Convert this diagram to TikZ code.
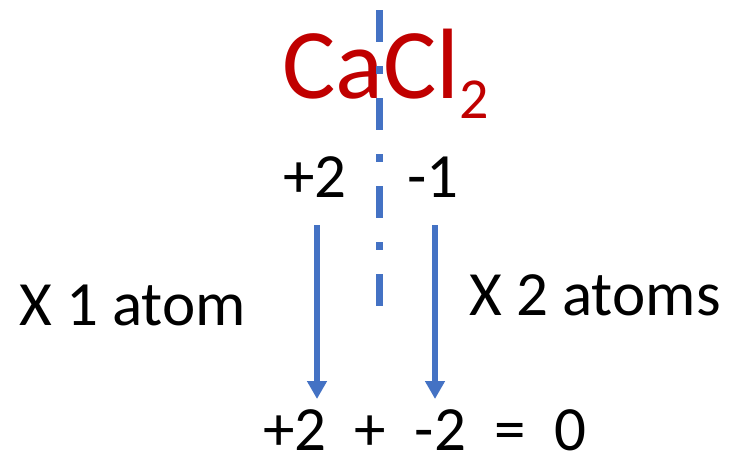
\documentclass[tikz,border=0pt]{standalone}
\usepackage{fontspec}
\setmainfont{Carlito}
\usepackage{tikz}
\usetikzlibrary{arrows.meta}
\definecolor{bleu}{RGB}{68,114,196}
\definecolor{rouge}{RGB}{192,0,0}

\begin{document}
\begin{tikzpicture}[
	x=1pt, y=-1pt,
	txt/.style={inner sep=0pt, anchor=base west, font=\fontsize{63}{65}\selectfont},
	fleche/.style={draw=bleu, line width=6pt, -{Triangle[length=18pt,width=19pt]}},
	>=Stealth
	]
	\useasboundingbox (0,0) rectangle (731,458);
	% formula and split line
	\node[inner sep=0pt, anchor=base west, text=rouge, font=\fontsize{100}{100}\selectfont]
		(formule) at (282,98) {CaCl\raisebox{-20pt}{\fontsize{58}{58}\selectfont 2}};
	\coordinate (haut) at (379,10);
	\coordinate (bas) at (379,306);
	\draw[bleu, line width=7pt, dash pattern=on 32pt off 24pt on 8pt off 24pt] (haut) -- (bas);
	% charges
	\node[txt] (ca) at (283,197) {+2};
	\node[txt] (cl) at (407,197) {-1};
	\node[txt] (fois1) at (19,325) {X 1 atom};
	\node[txt] (fois2) at (469,315) {X 2 atoms};
	\node[txt] (somme) at (263,450) {+2~~+~~-2~~=~~0};
	% arrows
	\coordinate (d1) at (317,225);
	\coordinate (f1) at (317,399);
	\coordinate (d2) at (435,225);
	\coordinate (f2) at (435,399);
	\draw[fleche] (d1) -- (f1);
	\draw[fleche] (d2) -- (f2);
\end{tikzpicture}
\end{document}
